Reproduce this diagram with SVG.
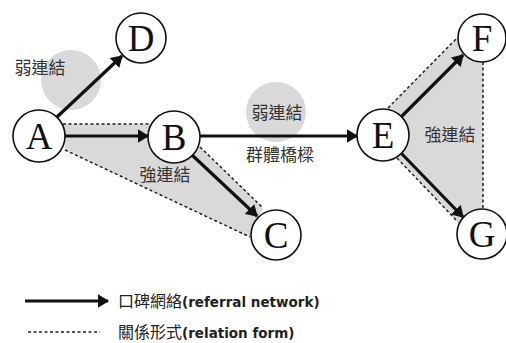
<svg xmlns="http://www.w3.org/2000/svg" width="506" height="343" viewBox="0 0 506 343">
<style>
.node circle{fill:#fff;stroke:#111;stroke-width:1.6}
.node text{font-family:"Liberation Serif","Times New Roman",serif;font-size:37px;fill:#111;text-anchor:middle}
.arrow{stroke:#111;stroke-width:3.2;fill:none;marker-end:url(#ah)}
.dash{stroke:#222;stroke-width:1.5;stroke-dasharray:3 2.5;fill:none}
.shade{fill:#d9d9d9}
.lbl{font-family:"Noto Sans CJK TC","Noto Sans CJK SC",sans-serif;font-size:17px;fill:#333;text-anchor:middle}
.leg{font-family:"Noto Sans CJK TC","Noto Sans CJK SC",sans-serif;font-size:16px;fill:#222}
.legen{font-family:"DejaVu Sans","Open Sans",sans-serif;font-weight:bold;font-size:13.5px}
</style>
<defs>
<marker id="ah" viewBox="0 0 10 12" refX="9" refY="6" markerWidth="3.6" markerHeight="4.4" markerUnits="strokeWidth" orient="auto">
<path d="M0,0 L10,6 L0,12 Z" fill="#111"/>
</marker>
</defs>
<g id="shading">
<circle class="shade" cx="71" cy="80" r="30"/>
<circle class="shade" cx="276" cy="112" r="30"/>
<polygon class="shade" points="63,124 152,124 200,147 263,208 250,237 65,150"/>
<polygon class="shade" points="388,108 457,38 483,62 483,210 458,222 397,158"/>
</g>
<g id="connectors">
<line class="dash" x1="63" y1="124" x2="152" y2="124"/>
<line class="dash" x1="65" y1="150" x2="250" y2="237"/>
<line class="dash" x1="200" y1="147" x2="263" y2="208"/>
<line class="dash" x1="388" y1="108" x2="457" y2="38"/>
<line class="dash" x1="397" y1="158" x2="458" y2="222"/>
<line class="dash" x1="483" y1="62" x2="483" y2="210"/>
<line class="arrow" x1="57" y1="117" x2="122" y2="56"/>
<line class="arrow" x1="65" y1="136" x2="148" y2="136"/>
<line class="arrow" x1="192" y1="155" x2="257" y2="216"/>
<line class="arrow" x1="200" y1="136" x2="357" y2="136"/>
<line class="arrow" x1="401" y1="117" x2="463" y2="55"/>
<line class="arrow" x1="401" y1="153" x2="463" y2="217"/>
</g>
<g id="node-A" class="node"><circle cx="39" cy="136" r="26"/><text x="39" y="149">A</text></g>
<g id="node-B" class="node"><circle cx="174" cy="137" r="26"/><text x="174" y="150">B</text></g>
<g id="node-C" class="node"><circle cx="276" cy="235" r="25"/><text x="276" y="248">C</text></g>
<g id="node-D" class="node"><circle cx="141" cy="38" r="25"/><text x="141" y="51">D</text></g>
<g id="node-E" class="node"><circle cx="383" cy="135" r="26"/><text x="383" y="148">E</text></g>
<g id="node-F" class="node"><circle cx="482" cy="38" r="24"/><text x="482" y="51">F</text></g>
<g id="node-G" class="node"><circle cx="482" cy="234" r="25"/><text x="482" y="247">G</text></g>
<g id="labels">
<text class="lbl" x="40" y="74">弱連結</text>
<text class="lbl" x="277" y="119">弱連結</text>
<text class="lbl" x="280" y="161">群體橋樑</text>
<text class="lbl" x="165" y="181">強連結</text>
<text class="lbl" x="450" y="141">強連結</text>
</g>
<g id="legend">
<line class="arrow" x1="25" y1="301" x2="108" y2="301"/>
<line class="dash" x1="28" y1="332" x2="100" y2="332"/>
<text class="leg" x="118" y="307">口碑網絡<tspan class="legen">(referral network)</tspan></text>
<text class="leg" x="118" y="338">關係形式<tspan class="legen">(relation form)</tspan></text>
</g>
</svg>
